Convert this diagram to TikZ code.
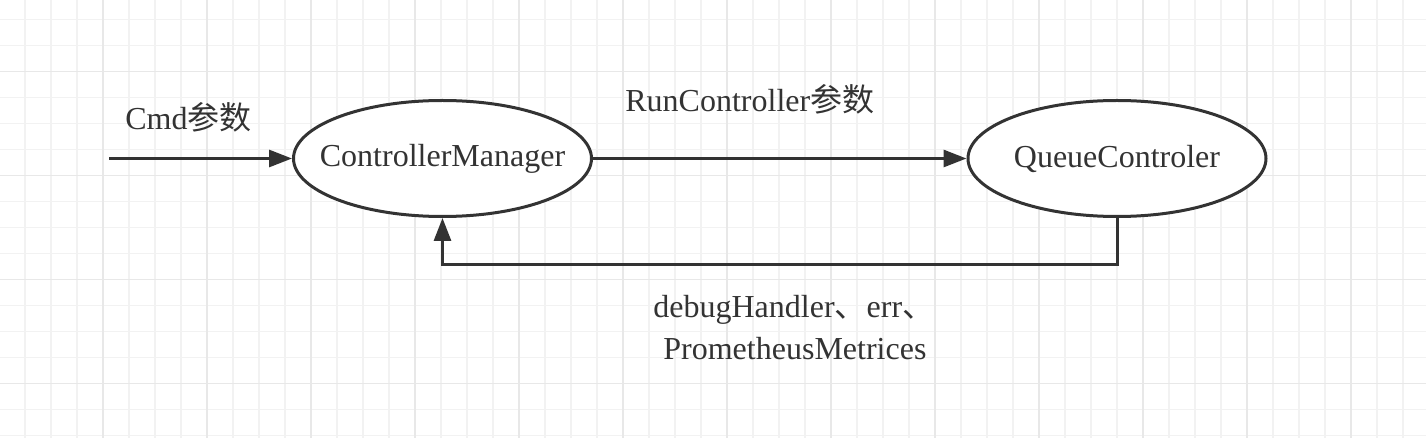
\documentclass[tikz,border=0pt]{standalone}
\usepackage{fontspec}
\setmainfont{Liberation Serif}
\newfontfamily\cjk{Noto Sans CJK SC}
\usetikzlibrary{arrows.meta,shapes.geometric}
\definecolor{ink}{HTML}{333333}
\definecolor{gridminor}{HTML}{F2F2F2}
\definecolor{gridmajor}{HTML}{E8E8E8}
\begin{document}
\begin{tikzpicture}[x=0.5pt,y=-0.5pt,
  gridline/.style={line width=0.8pt},
  proc/.style={ellipse, draw=ink, line width=1.5pt, fill=white, minimum width=149pt, minimum height=58pt, inner sep=0pt, text=ink, font=\fontsize{16}{20.8}\selectfont},
  conn/.style={draw=ink, line width=1.5pt, -{Triangle[length=11.5pt,width=8.5pt]}},
  lbl/.style={text=ink, inner sep=0pt, font=\fontsize{16}{20.8}\selectfont}]
\useasboundingbox (0,0) rectangle (1426,438);
\fill[white] (0,0) rectangle (1426,438);
% grid
\foreach \k in {0,...,53} \draw[gridline, gridminor] ({25+26*\k},0) -- ({25+26*\k},438);
\foreach \k in {0,...,16} \draw[gridline, gridminor] (0,{19.5+26*\k}) -- (1426,{19.5+26*\k});
\foreach \k in {3,7,...,51} \draw[gridline, gridmajor] ({25+26*\k},0) -- ({25+26*\k},438);
\foreach \k in {2,6,10,14} \draw[gridline, gridmajor] (0,{19.5+26*\k}) -- (1426,{19.5+26*\k});
% nodes
\node[proc] (cm) at (442.5,158.5) {\makebox[0pt]{ControllerManager}};
\node[proc] (qc) at (1117,158.5) {\makebox[0pt]{QueueControler}};
\coordinate (cmdstart) at (109,158.5);
% connectors
\draw[conn] (cmdstart) -- (cm.west);
\draw[conn] (cm.east) -- (qc.west);
\draw[conn] (qc.south) -- (qc.south |- 0,265) -| (cm.south);
% labels
\node[lbl, anchor=base west] (cmdlbl) at (125,130) {Cmd{\cjk 参数}};
\node[lbl, anchor=base west] (runlbl) at (625,111.7) {RunController{\cjk 参数}};
\node[lbl, anchor=north west, align=left] (retlbl) at (653,295) {debugHandler{\cjk 、}err{\cjk 、}\\\hspace*{5pt}PrometheusMetrices};
\end{tikzpicture}
\end{document}
